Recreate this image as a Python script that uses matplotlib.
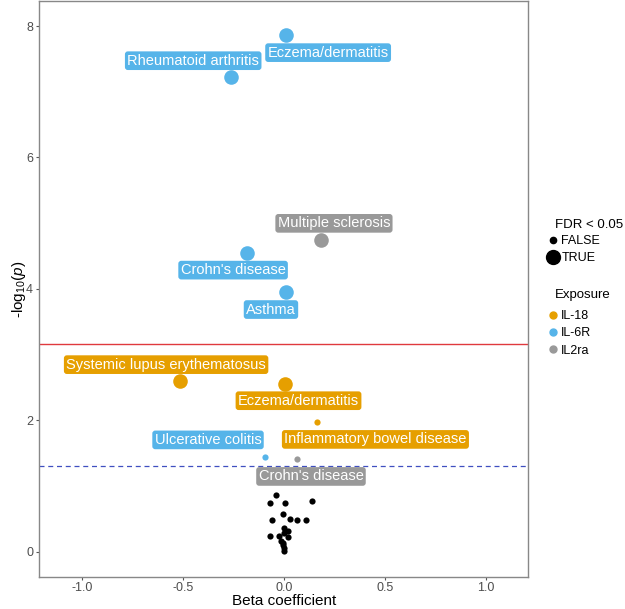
import matplotlib
matplotlib.use("Agg")
import matplotlib.pyplot as plt
from matplotlib.lines import Line2D

plt.rcParams['font.family'] = ['Liberation Sans', 'DejaVu Sans']
plt.rcParams['mathtext.fontset'] = 'custom'
plt.rcParams['mathtext.rm'] = 'Liberation Sans'
plt.rcParams['mathtext.it'] = 'Liberation Sans:italic'

# labelled results (coloured by exposure)
traits = ["Eczema/dermatitis", "Rheumatoid arthritis", "Multiple sclerosis",
          "Crohn's disease", "Asthma", "Systemic lupus erythematosus",
          "Eczema/dermatitis", "Inflammatory bowel disease",
          "Ulcerative colitis", "Crohn's disease"]
exposure = ["IL-6R", "IL-6R", "IL2ra", "IL-6R", "IL-6R", "IL-18",
            "IL-18", "IL-18", "IL-6R", "IL2ra"]
beta = [0.01, -0.262, 0.186, -0.18, 0.011, -0.513, 0.005, 0.163, -0.093, 0.064]
neglogp = [7.86, 7.23, 4.74, 4.55, 3.95, 2.60, 2.55, 1.98, 1.44, 1.41]
fdr_sig = [True, True, True, True, True, True, True, False, False, False]

# non-significant results (black)
ns_beta = [-0.040, -0.069, 0.005, 0.140, -0.002, -0.056, 0.033, 0.064, 0.109,
           0.001, 0.023, 0.0, -0.066, -0.022, 0.023, -0.015, -0.002, -0.005,
           0.0, 0.0]
ns_neglogp = [0.862, 0.736, 0.745, 0.766, 0.573, 0.482, 0.497, 0.477, 0.482,
              0.356, 0.32, 0.29, 0.243, 0.243, 0.228, 0.158, 0.137, 0.102,
              0.061, 0.015]

bonferroni = 3.158
nominal = 1.301

colours = {"IL-18": "#E69F00", "IL-6R": "#56B4E9", "IL2ra": "#999999"}

# label offsets from point, in points
label_offsets = [(30.5, -12.5), (-27.1, 11.5), (9.1, 12.2), (-10.3, -12.5),
                 (-10.8, -12.5), (-10.1, 11.7), (9.9, -11.9), (42.3, -12.8),
                 (-41.0, 12.4), (10.3, -12.5)]

fig = plt.figure(figsize=(6.25, 6.09), dpi=100)
ax = fig.add_axes([0.063, 0.0525, 0.782, 0.946])

ax.axhline(bonferroni, color="#E0393E", lw=1.0, zorder=1)
ax.axhline(nominal, color="#3F4FC0", lw=0.9, ls=(0, (4, 3)), zorder=1)

ax.scatter(ns_beta, ns_neglogp, s=20, color="black", lw=0, zorder=3)

big, small = 110, 20
for b, p, e, sig in zip(beta, neglogp, exposure, fdr_sig):
    ax.scatter(b, p, s=big if sig else small, color=colours[e], lw=0, zorder=3)

for t, b, p, e, off in zip(traits, beta, neglogp, exposure, label_offsets):
    ax.annotate(t, (b, p), xytext=off, textcoords="offset points",
                ha="center", va="center", color="white", fontsize=10.5,
                bbox=dict(boxstyle="round,pad=0.16,rounding_size=0.2",
                          fc=colours[e], ec="none"), zorder=4)

ax.set_xlim(-1.21, 1.21)
ax.set_ylim(-0.385, 8.383)
ax.set_xticks([-1.0, -0.5, 0.0, 0.5, 1.0])
ax.set_xticklabels(["-1.0", "-0.5", "0.0", "0.5", "1.0"])
ax.set_yticks([0, 2, 4, 6, 8])
ax.tick_params(colors="#555555", labelcolor="#4D4D4D", labelsize=9,
               length=2.5, width=0.8)
ax.tick_params(axis="x", pad=1.0)
ax.tick_params(axis="y", pad=2.0)
for sp in ax.spines.values():
    sp.set_color("#888888")
    sp.set_linewidth(1.0)

ax.set_xlabel("Beta coefficient", fontsize=11, labelpad=0)
ax.set_ylabel("-log$_{10}$($p$)", fontsize=11, labelpad=-1)

# legends
fig.text(0.888, 1 - 225 / 609, "FDR < 0.05", fontsize=9.5, va="center")
fdr_handles = [Line2D([], [], marker="o", ls="", color="black", markersize=4.5),
               Line2D([], [], marker="o", ls="", color="black", markersize=10)]
fig.legend(fdr_handles, ["FALSE", "TRUE"],
           loc="upper left", bbox_to_anchor=(0.872, 1 - 235 / 609),
           frameon=False, fontsize=9, borderpad=0,
           handletextpad=0.1, labelspacing=0.4, borderaxespad=0,
           handlelength=1.2)

fig.text(0.888, 1 - 295 / 609, "Exposure", fontsize=9.5, va="center")
exp_handles = [Line2D([], [], marker="o", ls="", color=colours[k], markersize=5)
               for k in colours]
fig.legend(exp_handles, list(colours),
           loc="upper left", bbox_to_anchor=(0.872, 1 - 310 / 609),
           frameon=False, fontsize=9, borderpad=0,
           handletextpad=0.1, labelspacing=0.42, borderaxespad=0,
           handlelength=1.2)

fig.savefig("out.png", dpi=100)
